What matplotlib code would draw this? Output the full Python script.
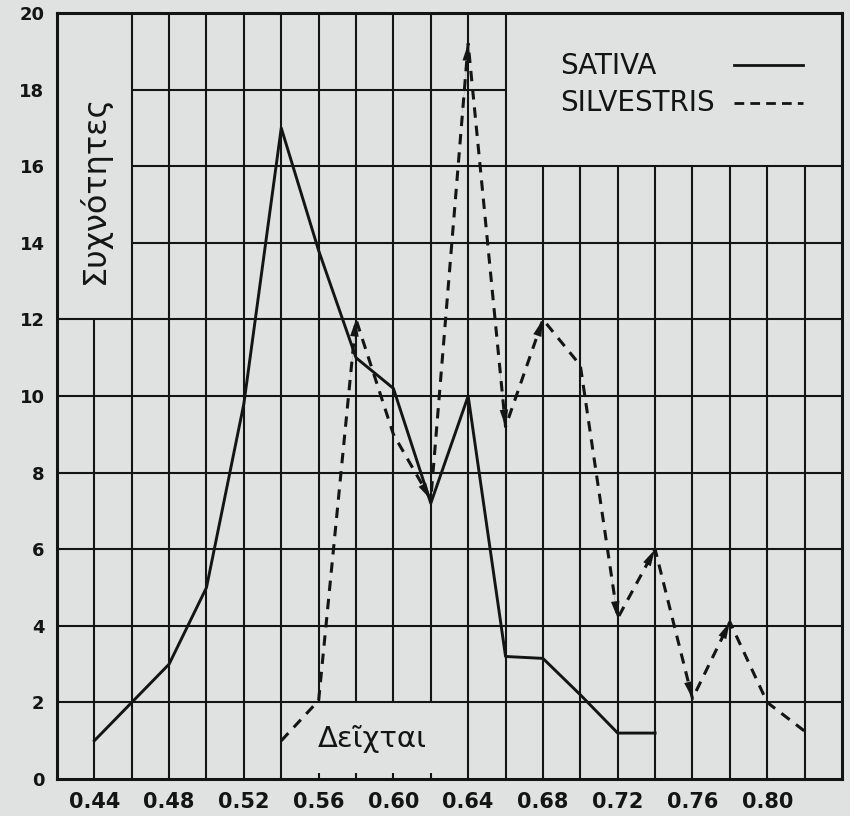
import matplotlib
matplotlib.use("Agg")
import matplotlib.pyplot as plt

# values
sativa_x = [0.44, 0.46, 0.48, 0.50, 0.52, 0.54, 0.56, 0.58, 0.60, 0.62,
            0.64, 0.66, 0.68, 0.70, 0.72, 0.74]
sativa_y = [1.0, 2.0, 3.0, 5.0, 9.8, 17.0, 13.8, 11.0, 10.2, 7.2,
            10.0, 3.2, 3.15, 2.2, 1.2, 1.2]

silvestris_x = [0.54, 0.56, 0.58, 0.60, 0.62, 0.64, 0.66, 0.68, 0.70,
                0.72, 0.74, 0.76, 0.78, 0.80, 0.82]
silvestris_y = [1.0, 2.05, 12.0, 9.0, 7.3, 19.2, 9.2, 12.0, 10.8,
                4.2, 6.0, 2.1, 4.1, 2.0, 1.25]

xtick_vals = [0.44, 0.48, 0.52, 0.56, 0.60, 0.64, 0.68, 0.72, 0.76, 0.80]
xtick_labels = ["0.44", "0.48", "0.52", "0.56", "0.60", "0.64", "0.68", "0.72", "0.76", "0.80"]
ytick_vals = [0, 2, 4, 6, 8, 10, 12, 14, 16, 18, 20]

bg = "#e0e2e1"
ink = "#141414"

fig = plt.figure(figsize=(8.5, 8.16), dpi=100, facecolor=bg)
ax = fig.add_axes([0.067, 0.0453, 0.9236, 0.9387], facecolor=bg)
ax.set_xlim(0.42, 0.84)
ax.set_ylim(0, 20)

# hand drawn grid, with the empty boxes for the labels and the legend
for i in range(1, 21):
    gx = 0.42 + 0.02 * i
    lo, hi = 0, 20
    if i == 1:
        hi = 12
    if i >= 13:
        hi = 16
    if 7 <= i <= 10:
        lo = 2
        ax.vlines(gx, 0, 0.15, color=ink, lw=1.5, zorder=1)
    ax.vlines(gx, lo, hi, color=ink, lw=1.5, zorder=1)

for gy in range(2, 20, 2):
    lo, hi = 0.42, 0.84
    if gy >= 14:
        lo = 0.46
    if gy == 18:
        hi = 0.66
    ax.hlines(gy, lo, hi, color=ink, lw=1.5, zorder=1)

# the two series
ax.plot(sativa_x, sativa_y, color=ink, lw=2.1, zorder=3)
ax.plot(silvestris_x, silvestris_y, color=ink, lw=2.2, dashes=(3.4, 2.6), zorder=3)

# arrow heads at the turning points of the dashed line
for i in range(1, len(silvestris_y) - 1):
    d0 = silvestris_y[i] - silvestris_y[i - 1]
    d1 = silvestris_y[i + 1] - silvestris_y[i]
    if d0 * d1 < 0:
        x0, y0 = silvestris_x[i - 1], silvestris_y[i - 1]
        x1, y1 = silvestris_x[i], silvestris_y[i]
        ax.annotate("", xy=(x1, y1),
                    xytext=(x1 - 0.15 * (x1 - x0), y1 - 0.15 * (y1 - y0)),
                    arrowprops=dict(arrowstyle="-|>,head_length=1.2,head_width=0.3",
                                    color=ink, lw=0.1, shrinkA=0, shrinkB=0,
                                    mutation_scale=10),
                    zorder=4)

for s in ax.spines.values():
    s.set_linewidth(2.2)
    s.set_color(ink)

ax.set_xticks(xtick_vals)
ax.set_xticklabels(xtick_labels, fontsize=15, fontweight="bold", color=ink)
ax.set_yticks(ytick_vals)
ax.set_yticklabels([str(v) for v in ytick_vals], fontsize=13, fontweight="bold", color=ink)
ax.tick_params(length=0, pad=9)

ax.text(0.44, 15.4, "Συχνότητες", rotation=90, ha="center", va="center",
        fontsize=23, color=ink)
ax.text(0.5888, 1.05, "Δεῖχται", ha="center", va="center", fontsize=21, color=ink)

# legend in the upper right box
ax.text(0.689, 18.62, "SATIVA", ha="left", va="center", fontsize=20, color=ink)
ax.text(0.689, 17.65, "SILVESTRIS", ha="left", va="center", fontsize=20, color=ink)
ax.plot([0.7824, 0.819], [18.64, 18.64], color=ink, lw=2.0)
ax.plot([0.7824, 0.819], [17.65, 17.65], color=ink, lw=2.0, dashes=(3.5, 2.2))

fig.savefig("out.png", dpi=100, facecolor=bg)
